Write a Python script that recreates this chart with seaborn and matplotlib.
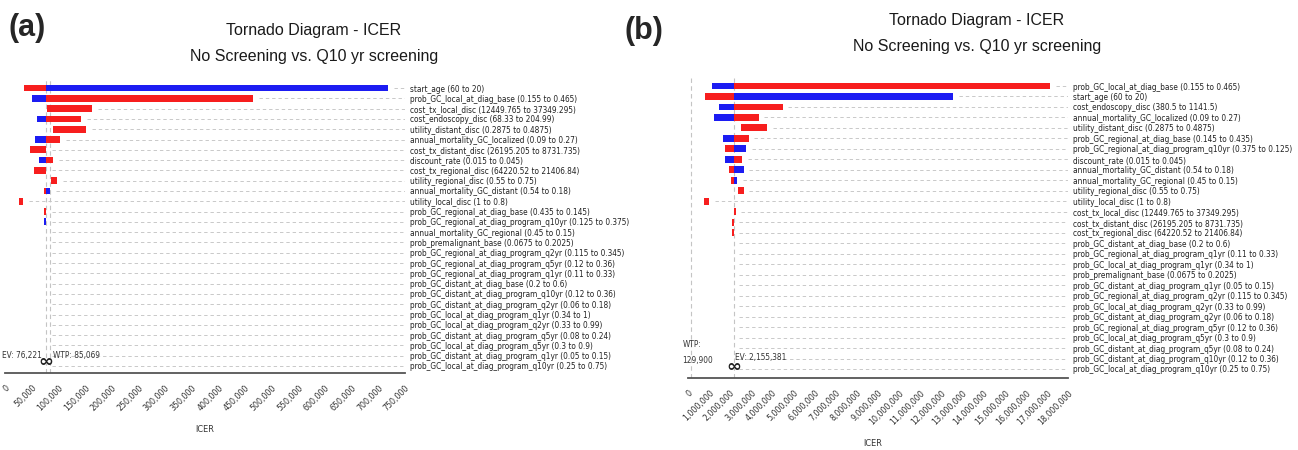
import numpy as np
import pandas as pd
import seaborn as sns
import matplotlib.pyplot as plt
from matplotlib import font_manager
from matplotlib.font_manager import FontProperties
from matplotlib.ticker import FuncFormatter

# ---- panel (a): values ----
a_labels = [
    "start_age (60 to 20)",
    "prob_GC_local_at_diag_base (0.155 to 0.465)",
    "cost_tx_local_disc (12449.765 to 37349.295)",
    "cost_endoscopy_disc (68.33 to 204.99)",
    "utility_distant_disc (0.2875 to 0.4875)",
    "annual_mortality_GC_localized (0.09 to 0.27)",
    "cost_tx_distant_disc (26195.205 to 8731.735)",
    "discount_rate (0.015 to 0.045)",
    "cost_tx_regional_disc (64220.52 to 21406.84)",
    "utility_regional_disc (0.55 to 0.75)",
    "annual_mortality_GC_distant (0.54 to 0.18)",
    "utility_local_disc (1 to 0.8)",
    "prob_GC_regional_at_diag_base (0.435 to 0.145)",
    "prob_GC_regional_at_diag_program_q10yr (0.125 to 0.375)",
    "annual_mortality_GC_regional (0.45 to 0.15)",
    "prob_premalignant_base (0.0675 to 0.2025)",
    "prob_GC_regional_at_diag_program_q2yr (0.115 to 0.345)",
    "prob_GC_regional_at_diag_program_q5yr (0.12 to 0.36)",
    "prob_GC_regional_at_diag_program_q1yr (0.11 to 0.33)",
    "prob_GC_distant_at_diag_base (0.2 to 0.6)",
    "prob_GC_distant_at_diag_program_q10yr (0.12 to 0.36)",
    "prob_GC_distant_at_diag_program_q2yr (0.06 to 0.18)",
    "prob_GC_local_at_diag_program_q1yr (0.34 to 1)",
    "prob_GC_local_at_diag_program_q2yr (0.33 to 0.99)",
    "prob_GC_distant_at_diag_program_q5yr (0.08 to 0.24)",
    "prob_GC_local_at_diag_program_q5yr (0.3 to 0.9)",
    "prob_GC_distant_at_diag_program_q1yr (0.05 to 0.15)",
    "prob_GC_local_at_diag_program_q10yr (0.25 to 0.75)",
]
a_ev = 76221
a_wtp = 85069
# lowest and highest ICER of each bar
a_low = [35600, 50600, 78200, 59400, 90600, 56800, 46900, 64300, 54400, 85700,
         73100, 26250, 72200, 72200] + [a_ev] * 14
a_high = [718700, 464400, 163700, 143100, 151300, 102600, 76221, 89400, 76221, 97500,
          83800, 33750, 77800, 77400] + [a_ev] * 14
# colour of the part below EV / above EV
a_below = list("rbrbrbrbrrrrrb") + ["r"] * 14
a_above = list("brrrrrrrrrbrbr") + ["r"] * 14

# ---- panel (b) ----
b_labels = [
    "prob_GC_local_at_diag_base (0.155 to 0.465)",
    "start_age (60 to 20)",
    "cost_endoscopy_disc (380.5 to 1141.5)",
    "annual_mortality_GC_localized (0.09 to 0.27)",
    "utility_distant_disc (0.2875 to 0.4875)",
    "prob_GC_regional_at_diag_base (0.145 to 0.435)",
    "prob_GC_regional_at_diag_program_q10yr (0.375 to 0.125)",
    "discount_rate (0.015 to 0.045)",
    "annual_mortality_GC_distant (0.54 to 0.18)",
    "annual_mortality_GC_regional (0.45 to 0.15)",
    "utility_regional_disc (0.55 to 0.75)",
    "utility_local_disc (1 to 0.8)",
    "cost_tx_local_disc (12449.765 to 37349.295)",
    "cost_tx_distant_disc (26195.205 to 8731.735)",
    "cost_tx_regional_disc (64220.52 to 21406.84)",
    "prob_GC_distant_at_diag_base (0.2 to 0.6)",
    "prob_GC_regional_at_diag_program_q1yr (0.11 to 0.33)",
    "prob_GC_local_at_diag_program_q1yr (0.34 to 1)",
    "prob_premalignant_base (0.0675 to 0.2025)",
    "prob_GC_distant_at_diag_program_q1yr (0.05 to 0.15)",
    "prob_GC_regional_at_diag_program_q2yr (0.115 to 0.345)",
    "prob_GC_local_at_diag_program_q2yr (0.33 to 0.99)",
    "prob_GC_distant_at_diag_program_q2yr (0.06 to 0.18)",
    "prob_GC_regional_at_diag_program_q5yr (0.12 to 0.36)",
    "prob_GC_local_at_diag_program_q5yr (0.3 to 0.9)",
    "prob_GC_distant_at_diag_program_q5yr (0.08 to 0.24)",
    "prob_GC_distant_at_diag_program_q10yr (0.12 to 0.36)",
    "prob_GC_local_at_diag_program_q10yr (0.25 to 0.75)",
]
b_ev = 2155381
b_wtp = 129900
b_low = [1140000, 790000, 1490000, 1240000, 2490000, 1680000, 1740000, 1770000,
         1960000, 2040000, 2370000, 760000, 2160000, 2080000, 2080000] + [b_ev] * 13
b_high = [17160000, 12550000, 4480000, 3340000, 3750000, 2870000, 2740000, 2580000,
          2640000, 2330000, 2640000, 1000000, 2250000, 2155381, 2155381] + [b_ev] * 13
b_below = list("brbbrbrbrrrrrrr") + ["r"] * 13
b_above = list("rbrrrrbrbbrrrrr") + ["r"] * 13

a_ticks = np.arange(0, 750001, 50000)
b_ticks = np.arange(0, 18000001, 1000000)

COLORS = {"r": "#f71e1e", "b": "#1c1cf2"}

sns.set_style("white")
plt.rcParams["font.family"] = ["Liberation Sans", "DejaVu Sans"]

# a narrow face if one is around (the original uses Arial Narrow)
narrow_file = None
for f in font_manager.fontManager.ttflist:
    fn = f.fname.replace("\\", "/").split("/")[-1]
    if fn in ("LiberationSansNarrow-Regular.ttf", "DejaVuSansCondensed.ttf"):
        narrow_file = f.fname
        break
small = 5.95
if narrow_file:
    def small_font(size=small):
        return FontProperties(fname=narrow_file, size=size)
else:
    def small_font(size=small):
        return FontProperties(family="Liberation Sans", size=size)

W, H = 1298, 450
fig = plt.figure(figsize=(W / 100, H / 100), dpi=100)


def tornado(ax, labels, low, high, below, above, ev, wtp, ticks, ylim):
    n = len(labels)
    xmax = ticks[-1]
    low = np.asarray(low, float)
    high = np.asarray(high, float)
    below_w = np.clip(np.minimum(high, ev) - low, 0, None)
    above_start = np.maximum(low, ev)
    above_w = np.clip(high - above_start, 0, None)

    for start, w, cols in [(low, below_w, below), (above_start, above_w, above)]:
        df = pd.DataFrame({"param": labels, "icer": w})
        sns.barplot(data=df, x="icer", y="param", order=labels, orient="y",
                    errorbar=None, width=0.66, color=COLORS["r"], left=start,
                    linewidth=0, zorder=3, ax=ax)
        for patch, c in zip(ax.containers[-1], cols):
            patch.set_facecolor(COLORS[c])
            patch.set_edgecolor(COLORS[c])

    # dashed guide from each bar to its label
    gap = xmax * 0.015
    ax.hlines(range(n), high + gap, xmax, colors="#c9c9c9", lw=0.7,
              linestyles=(0, (3.5, 3)), zorder=1)
    for v in (ev, wtp):
        ax.axvline(v, color="#c4c4c4", lw=0.8, ls=(0, (4, 3)), zorder=2)

    ax.set_xlim(0, xmax)
    ax.set_ylim(*ylim)
    ax.set_xlabel("")
    ax.set_ylabel("")
    ax.set_xticks(ticks)
    ax.xaxis.set_major_formatter(FuncFormatter(lambda v, p: f"{v:,.0f}"))
    ax.tick_params(axis="x", direction="inout", length=9, width=0.9, color="#555555",
                   labelcolor="#333333", pad=3)
    for t in ax.get_xticklabels():
        t.set_rotation(45)
        t.set_ha("right")
        t.set_rotation_mode("anchor")
        t.set_fontproperties(small_font(small + 0.4))

    ax.yaxis.tick_right()
    ax.set_yticks(range(n))
    ax.set_yticklabels(labels, color="#222222")
    for t in ax.get_yticklabels():
        t.set_fontproperties(small_font())
    ax.tick_params(axis="y", length=0, pad=3.5)

    sns.despine(ax=ax, left=True, top=True, right=True)
    ax.spines["bottom"].set_color("#555555")
    ax.spines["bottom"].set_linewidth(1.3)

    ax.text(ev, 0.008, "\u221e", transform=ax.get_xaxis_transform(), ha="center",
            va="bottom", fontsize=13, fontweight="bold", family="DejaVu Sans",
            color="#222222")


def note(ax, txt, x, y, dx, ha):
    ax.annotate(txt, (x, y), xycoords=ax.get_xaxis_transform(), xytext=(dx, 0),
                textcoords="offset points", ha=ha, va="center", color="#333333",
                fontproperties=small_font(), linespacing=2.0)


ax_a = fig.add_axes([5 / W, 1 - 373 / H, 400 / W, 293 / H])
tornado(ax_a, a_labels, a_low, a_high, a_below, a_above, a_ev, a_wtp, a_ticks,
        (27.68, -0.78))
note(ax_a, f"EV: {a_ev:,}", a_ev, 0.06, -3, "right")
note(ax_a, f"WTP: {a_wtp:,}", a_wtp, 0.06, 2, "left")

ax_b = fig.add_axes([688 / W, 1 - 378 / H, 380 / W, 301 / H])
tornado(ax_b, b_labels, b_low, b_high, b_below, b_above, b_ev, b_wtp, b_ticks,
        (27.86, -0.86))
note(ax_b, f"EV: {b_ev:,}", b_ev, 0.068, 1, "left")
note(ax_b, f"WTP:\n{b_wtp:,}", b_wtp, 0.085, -6, "left")

# titles, panel letters, axis names
for cx, y1, y2 in [(314, 30, 57), (977, 21, 46)]:
    fig.text(cx / W, 1 - y1 / H, "Tornado Diagram - ICER", ha="center", va="center",
             fontsize=11.5, color="#1a1a1a")
    fig.text(cx / W, 1 - y2 / H, "No Screening vs. Q10 yr screening", ha="center",
             va="center", fontsize=11.5, color="#1a1a1a")
fig.text(9 / W, 1 - 28 / H, "(a)", ha="left", va="center", fontsize=22, fontweight="bold")
fig.text(625 / W, 1 - 31 / H, "(b)", ha="left", va="center", fontsize=22, fontweight="bold")
fig.text(205 / W, 1 - 430 / H, "ICER", ha="center", va="center", color="#333333",
         fontproperties=small_font(small + 0.6))
fig.text(873 / W, 1 - 443 / H, "ICER", ha="center", va="center", color="#333333",
         fontproperties=small_font(small + 0.6))

fig.savefig("out.png", dpi=100, facecolor="white")
